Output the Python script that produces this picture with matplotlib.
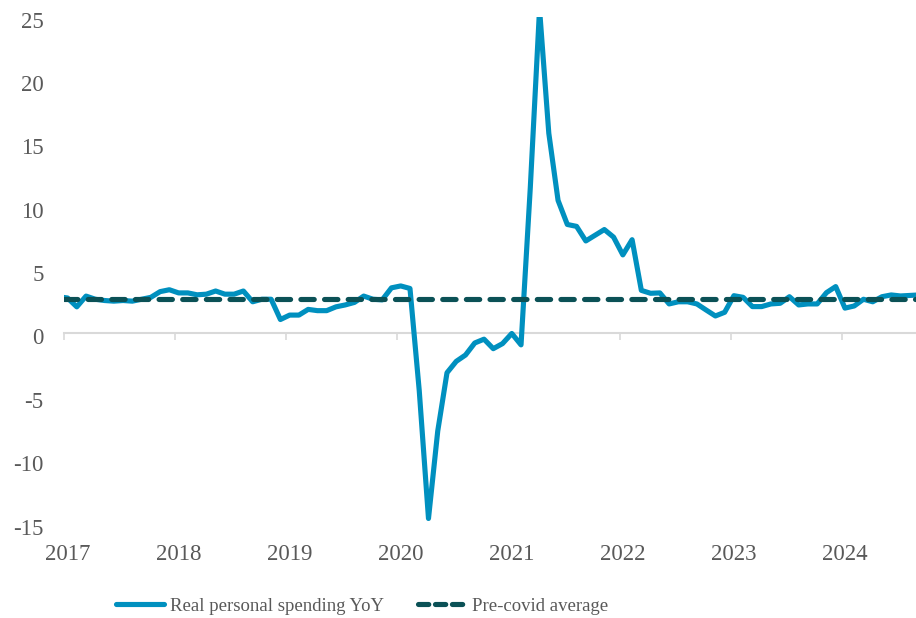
import numpy as np
import matplotlib
matplotlib.use("Agg")
import matplotlib.pyplot as plt
import matplotlib.transforms as mtransforms
from matplotlib.lines import Line2D

# Real personal spending, year-over-year % change, monthly from Dec 2016
start_year, start_month = 2016, 12
spending_yoy = [
    2.9,
    # 2017
    2.8, 2.1, 2.95, 2.7, 2.6, 2.55, 2.6, 2.55, 2.7, 2.85, 3.3, 3.45,
    # 2018
    3.2, 3.2, 3.05, 3.1, 3.35, 3.1, 3.1, 3.35, 2.5, 2.7, 2.7, 1.1,
    # 2019
    1.45, 1.45, 1.9, 1.8, 1.8, 2.1, 2.25, 2.45, 2.95, 2.7, 2.65, 3.6,
    # 2020
    3.75, 3.55, -4.5, -14.6, -7.7, -3.1, -2.2, -1.7, -0.75, -0.45, -1.2, -0.8,
    # 2021
    0.0, -0.9, 11.5, 25.6, 15.8, 10.5, 8.6, 8.45, 7.3, 7.75, 8.2, 7.6,
    # 2022
    6.2, 7.4, 3.4, 3.17, 3.2, 2.33, 2.5, 2.5, 2.33, 1.85, 1.38, 1.67,
    # 2023
    2.98, 2.85, 2.12, 2.12, 2.33, 2.38, 2.9, 2.25, 2.33, 2.33, 3.22, 3.7,
    # 2024
    2.0, 2.17, 2.7, 2.5, 2.9, 3.04, 2.96, 3.0, 3.04,
]
precovid_avg = 2.7

year_ticks = list(range(2017, 2025))
year_labels = [str(y) for y in year_ticks]
y_ticks = list(range(-15, 30, 5))

series_label = "Real personal spending YoY"
avg_label = "Pre-covid average"

BLUE = "#0090BF"
TEAL = "#0B5156"
GRID = "#D9D9D9"
TEXT = "#595959"

plt.rcParams["font.family"] = ["Liberation Serif", "DejaVu Serif"]

# monthly points sit slightly into each month on a year scale
n = len(spending_yoy)
month_index = np.arange(n) + (start_year * 12 + start_month - 1)
x = month_index / 12 + 0.35 / 12

fig = plt.figure(figsize=(9.16, 6.18), dpi=100)
ax = fig.add_axes([0.0702, 0.1528, 0.9298, 0.8203])

ax.plot(x, spending_yoy, color=BLUE, lw=3.7, solid_joinstyle="round",
        solid_capstyle="round", zorder=3)
avg_line = ax.axhline(precovid_avg, color=TEAL, lw=3.7, zorder=4)
avg_line.set_dashes((2.6, 2.0))
avg_line.set_dash_capstyle("round")

ax.set_xlim(2017, 2017 + (916 - 64.3) / 111.06)
ax.set_ylim(-15, 25)

for side in ("top", "right", "left"):
    ax.spines[side].set_visible(False)
ax.spines["bottom"].set_position(("data", 0))
ax.spines["bottom"].set_color(GRID)
ax.spines["bottom"].set_linewidth(1.5)

ax.set_xticks(year_ticks)
ax.tick_params(axis="x", direction="out", length=5, width=1.2, color=GRID,
               labelbottom=False)
ax.set_yticks(y_ticks)
ax.set_yticklabels([str(v) for v in y_ticks])
ax.tick_params(axis="y", length=0, pad=15, labelsize=16.5, labelcolor=TEXT)
shift_down = mtransforms.ScaledTranslation(0, -3 / 100, fig.dpi_scale_trans)
for lab in ax.get_yticklabels():
    lab.set_transform(lab.get_transform() + shift_down)

sec = ax.secondary_xaxis("bottom")
sec.set_xticks([y + 0.35 / 12 for y in year_ticks])
sec.set_xticklabels(year_labels)
sec.tick_params(length=0, pad=15, labelsize=16.5, labelcolor=TEXT)
sec.spines["bottom"].set_visible(False)

handles = [
    Line2D([], [], color=BLUE, lw=3.7, solid_capstyle="round"),
    Line2D([], [], color=TEAL, lw=3.7, dashes=(2.0, 1.3),
           dash_capstyle="round"),
]
fig.legend(handles, [series_label, avg_label], loc="center",
           bbox_to_anchor=(0.395, 0.019), ncol=2, frameon=False,
           fontsize=13.5, handlelength=2.6, handletextpad=0.3,
           columnspacing=1.8, labelcolor=TEXT)

fig.savefig("out.png", dpi=100, facecolor="white")
